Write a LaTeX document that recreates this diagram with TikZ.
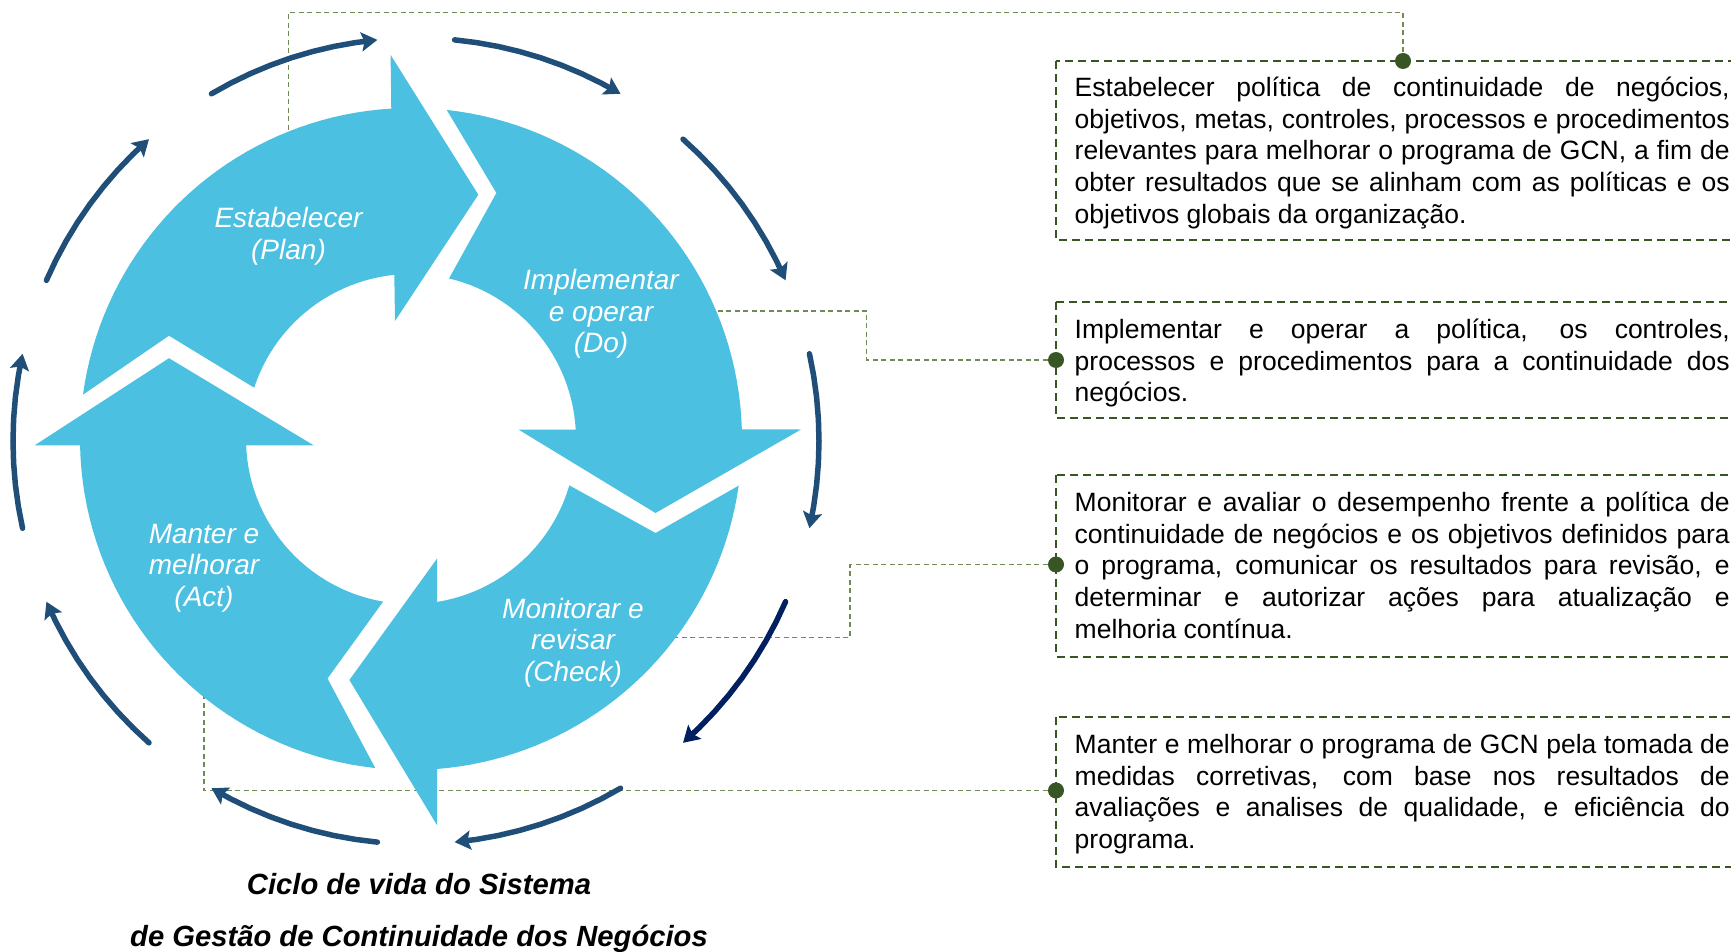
\documentclass[tikz,border=0pt]{standalone}
\usepackage{fontspec}
\setmainfont{Liberation Sans}
\usetikzlibrary{arrows.meta}
\definecolor{ringblue}{RGB}{75,192,224}
\definecolor{arcblue}{RGB}{31,78,121}
\definecolor{arcnavy}{RGB}{0,32,96}
\definecolor{boxgreen}{RGB}{55,86,35}
\definecolor{conngreen}{RGB}{112,138,84}
\newcommand\boxsetup{\hyphenpenalty=10000\relax\exhyphenpenalty=10000\relax\tolerance=10000\relax}
\begin{document}
\begin{tikzpicture}[x=1pt,y=-1pt,
  ringseg/.style={fill=ringblue,draw=none},
  arcline/.style={line width=5.5pt,line cap=round,-{Stealth[length=16pt,width=19pt,inset=3pt]}},
  conn/.style={draw=conngreen,line width=1.4pt,dash pattern=on 5pt off 3.5pt},
  boxframe/.style={draw=boxgreen,line width=2pt,dash pattern=on 8pt off 5pt},
  dotnode/.style={circle,fill=boxgreen,inner sep=0pt,minimum size=16pt},
  lbl/.style={text=white,align=center,inner sep=0pt,anchor=base,font=\fontsize{28}{31.5}\selectfont\itshape},
  boxtext/.style={text width=655pt,align=justify,inner sep=0pt,anchor=base west,
    font=\fontsize{26.5}{31.6}\selectfont},
  captxt/.style={align=center,inner sep=0pt,anchor=base,font=\fontsize{29.2}{52}\selectfont\bfseries\itshape}
]
\useasboundingbox (0,0) rectangle (1731,952);
\fill[white] (0,0) rectangle (1731,952);

\coordinate (d1pos) at (1403,61);
\coordinate (d2pos) at (1056,360);
\coordinate (d3pos) at (1056,564.5);
\coordinate (d4pos) at (1056,790.5);

\coordinate (e1) at (288.3,200);
\coordinate (k1) at (288.3,12.7);
\coordinate (e2) at (690,311);
\coordinate (k2) at (866.7,311);
\coordinate (e3) at (655,637.3);
\coordinate (k3) at (850,637.3);
\coordinate (e4) at (204,675);

\draw[conn] (d1pos) |- (k1) -- (e1);
\draw[conn] (d2pos) -| (k2) -- (e2);
\draw[conn] (d3pos) -| (k3) -- (e3);
\draw[conn] (d4pos) -| (e4);

% Plan
\fill[ringseg] ({411+331*cos(172.3)},{439-331*sin(172.3)})
  -- plot[domain=0:1,samples=40,variable=\t] ({411+331*cos(172.3-78.9*\t)},{439-331*sin(172.3-78.9*\t)})
  -- (390.6,54.9) -- (478.3,194.7) -- (395,321)
  -- plot[domain=0:1,samples=30,variable=\t] ({411+165*cos(95.8+66.1*\t)},{439-165*sin(95.8+66.1*\t)})
  -- (169,335.7) -- cycle;
% Do
\fill[ringseg] ({411+331*cos(83.8)},{439-331*sin(83.8)})
  -- plot[domain=0:1,samples=40,variable=\t] ({411+331*cos(83.8-82.16*\t)},{439-331*sin(83.8-82.16*\t)})
  -- (801,429.5) -- (655.5,513) -- (518.4,429.5)
  -- plot[domain=0:1,samples=30,variable=\t] ({411+165*cos(3.3+73.4*\t)},{439-165*sin(3.3+73.4*\t)})
  -- (496.4,193) -- cycle;
% Check
\fill[ringseg] ({411+331*cos(-8.1)},{439-331*sin(-8.1)})
  -- plot[domain=0:1,samples=40,variable=\t] ({411+331*cos(-8.1-77.4*\t)},{439-331*sin(-8.1-77.4*\t)})
  -- (437.2,825.5) -- (349.4,680) -- (437.2,558.4)
  -- plot[domain=0:1,samples=30,variable=\t] ({411+165*cos(-80.9+64.6*\t)},{439-165*sin(-80.9+64.6*\t)})
  -- (655.5,533) -- cycle;
% Act
\fill[ringseg] ({411+331*cos(-96.2)},{439-331*sin(-96.2)})
  -- plot[domain=0:1,samples=40,variable=\t] ({411+331*cos(-96.2-82.7*\t)},{439-331*sin(-96.2-82.7*\t)})
  -- (34.6,445.4) -- (169,358.2) -- (313.8,445.4)
  -- plot[domain=0:1,samples=30,variable=\t] ({411+165*cos(-177.8+78.1*\t)},{439-165*sin(-177.8+78.1*\t)})
  -- (327.5,678.5) -- cycle;

% ring labels (anchor = baseline of the last line)
\node[lbl] (plan) at (288.5,259.1) {Estabelecer\\(Plan)};
\node[lbl] (do) at (601,352.6) {Implementar\\e operar\\(Do)};
\node[lbl] (check) at (573,681) {Monitorar e\\revisar\\(Check)};
\node[lbl] (act) at (204,606) {Manter e\\melhorar\\(Act)};

\foreach \c/\col in {108/arcblue,72/arcblue,36/arcblue,0/arcblue,-36/arcnavy,-72/arcblue,-108/arcblue,-144/arcblue,-180/arcblue,-216/arcblue}{
  \draw[arcline,draw=\col] plot[domain=0:1,samples=9,variable=\t]
    ({416+403*cos(\c+12.5-25*\t)},{441-403*sin(\c+12.5-25*\t)});
}

\draw[boxframe] (1056,61) rectangle (1750,240);
\draw[boxframe] (1056,302) rectangle (1750,418);
\draw[boxframe] (1056,475) rectangle (1750,656.5);
\draw[boxframe] (1056,716.5) rectangle (1750,866.5);

\node[dotnode] (d1) at (d1pos) {};
\node[dotnode] (d2) at (d2pos) {};
\node[dotnode] (d3) at (d3pos) {};
\node[dotnode] (d4) at (d4pos) {};

\node[boxtext] (t1) at (1074.5,96.7) {\boxsetup Estabelecer política de continuidade de negócios,\linebreak objetivos, metas, controles, processos e procedimentos\linebreak relevantes para melhorar o programa de GCN, a fim de\linebreak obter resultados que se alinham com as políticas e os\linebreak objetivos globais da organização.};
\node[boxtext] (t2) at (1074.5,338.5) {\boxsetup Implementar e operar a política, os controles,\linebreak processos e procedimentos para a continuidade dos\linebreak negócios.};
\node[boxtext] (t3) at (1074.5,511.7) {\boxsetup Monitorar e avaliar o desempenho frente a política de\linebreak continuidade de negócios e os objetivos definidos para\linebreak o programa, comunicar os resultados para revisão, e\linebreak determinar e autorizar ações para atualização e\linebreak melhoria contínua.};
\node[boxtext] (t4) at (1074.5,753.5) {\boxsetup Manter e melhorar o programa de GCN pela tomada de\linebreak medidas corretivas, com base nos resultados de\linebreak avaliações e analises de qualidade, e eficiência do\linebreak programa.};

\node[captxt] (cap) at (419,946) {Ciclo de vida do Sistema\\de Gestão de Continuidade dos Negócios};
\end{tikzpicture}
\end{document}
